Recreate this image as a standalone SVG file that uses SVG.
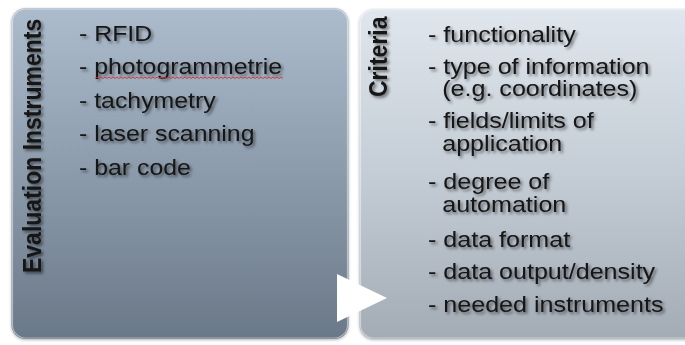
<svg xmlns="http://www.w3.org/2000/svg" width="685" height="345" viewBox="0 0 685 345">
  <defs>
    <linearGradient id="gLeft" x1="0" y1="0" x2="0" y2="1">
      <stop offset="0" stop-color="#adbccc"/>
      <stop offset="0.5" stop-color="#8c9bab"/>
      <stop offset="1" stop-color="#6a7888"/>
    </linearGradient>
    <linearGradient id="gRight" x1="0" y1="0" x2="0" y2="1">
      <stop offset="0" stop-color="#dfe6ed"/>
      <stop offset="0.5" stop-color="#c4ccd5"/>
      <stop offset="1" stop-color="#a3abb5"/>
    </linearGradient>
    <filter id="ts" x="-10%" y="-30%" width="120%" height="160%">
      <feGaussianBlur in="SourceAlpha" stdDeviation="1.5"/>
      <feOffset dx="1.5" dy="2" result="b"/>
      <feComponentTransfer><feFuncA type="linear" slope="0.5"/></feComponentTransfer>
      <feMerge><feMergeNode/><feMergeNode in="SourceGraphic"/></feMerge>
    </filter>
    <filter id="bs" x="-5%" y="-5%" width="110%" height="110%">
      <feGaussianBlur in="SourceAlpha" stdDeviation="1.5"/>
      <feOffset dx="0" dy="1"/>
      <feComponentTransfer><feFuncA type="linear" slope="0.3"/></feComponentTransfer>
      <feMerge><feMergeNode/><feMergeNode in="SourceGraphic"/></feMerge>
    </filter>
  </defs>
  <style>
    .item { font-family: "Liberation Sans", Arial, sans-serif; font-size: 22px; fill: #141414; }
    .title { font-family: "Liberation Sans", Arial, sans-serif; font-size: 23px; font-weight: bold; fill: #141414; }
    .hl { fill: none; stroke: #ffffff; stroke-opacity: 0.45; stroke-width: 1.2; }
  </style>
  <rect x="0" y="0" width="685" height="345" fill="#ffffff"/>

  <g id="node-evaluation">
    <rect x="11.5" y="8" width="337" height="331" rx="14" fill="url(#gLeft)" filter="url(#bs)"/>
    <rect x="12.5" y="9" width="335" height="329" rx="13" class="hl"/>
    <g filter="url(#ts)">
      <text class="title" transform="translate(41,273) scale(1.13,1) rotate(-90)">Evaluation Instruments</text>
      <g transform="translate(79,0) scale(1.13,1)">
        <text class="item" x="0" y="41">- RFID</text>
        <text class="item" x="0" y="74.5">- photogrammetrie</text>
        <text class="item" x="0" y="108">- tachymetry</text>
        <text class="item" x="0" y="141.5">- laser scanning</text>
        <text class="item" x="0" y="175">- bar code</text>
      </g>
    </g>
    <path d="M95,78.5 l2,-1.5 l2,1.5 l2,-1.5 l2,1.5 l2,-1.5 l2,1.5 l2,-1.5 l2,1.5 l2,-1.5 l2,1.5 l2,-1.5 l2,1.5 l2,-1.5 l2,1.5 l2,-1.5 l2,1.5 l2,-1.5 l2,1.5 l2,-1.5 l2,1.5 l2,-1.5 l2,1.5 l2,-1.5 l2,1.5 l2,-1.5 l2,1.5 l2,-1.5 l2,1.5 l2,-1.5 l2,1.5 l2,-1.5 l2,1.5 l2,-1.5 l2,1.5 l2,-1.5 l2,1.5 l2,-1.5 l2,1.5 l2,-1.5 l2,1.5 l2,-1.5 l2,1.5 l2,-1.5 l2,1.5 l2,-1.5 l2,1.5 l2,-1.5 l2,1.5 l2,-1.5 l2,1.5 l2,-1.5 l2,1.5 l2,-1.5 l2,1.5 l2,-1.5 l2,1.5 l2,-1.5 l2,1.5 l2,-1.5 l2,1.5 l2,-1.5 l2,1.5 l2,-1.5 l2,1.5 l2,-1.5 l2,1.5 l2,-1.5 l2,1.5 l2,-1.5 l2,1.5 l2,-1.5 l2,1.5 l2,-1.5 l2,1.5 l2,-1.5 l2,1.5 l2,-1.5 l2,1.5 l2,-1.5 l2,1.5 l2,-1.5 l2,1.5 l2,-1.5 l2,1.5 l2,-1.5 l2,1.5 l2,-1.5 l2,1.5 l2,-1.5 l2,1.5 l2,-1.5 l2,1.5 l2,-1.5 l2,1.5" fill="none" stroke="#d03030" stroke-width="0.9"/>
  </g>

  <g id="node-criteria">
    <rect x="359.5" y="9" width="340" height="330" rx="14" fill="url(#gRight)" filter="url(#bs)"/>
    <rect x="360.5" y="10" width="338" height="328" rx="13" class="hl"/>
    <g filter="url(#ts)">
      <text class="title" transform="translate(387,97) scale(1.13,1) rotate(-90)">Criteria</text>
      <g transform="translate(428,0) scale(1.14,1)">
        <text class="item" x="0" y="42">- functionality</text>
        <text class="item" x="0" y="74">- type of information</text>
        <text class="item" x="12.5" y="96">(e.g. coordinates)</text>
        <text class="item" x="0" y="128">- fields/limits of</text>
        <text class="item" x="12.5" y="151">application</text>
        <text class="item" x="0" y="189.5">- degree of</text>
        <text class="item" x="12.5" y="212">automation</text>
        <text class="item" x="0" y="247">- data format</text>
        <text class="item" x="0" y="279">- data output/density</text>
        <text class="item" x="0" y="312">- needed instruments</text>
      </g>
    </g>
  </g>

  <g id="connectors">
    <polygon points="337,274 387,298 337,322" fill="#ffffff"/>
  </g>
</svg>
